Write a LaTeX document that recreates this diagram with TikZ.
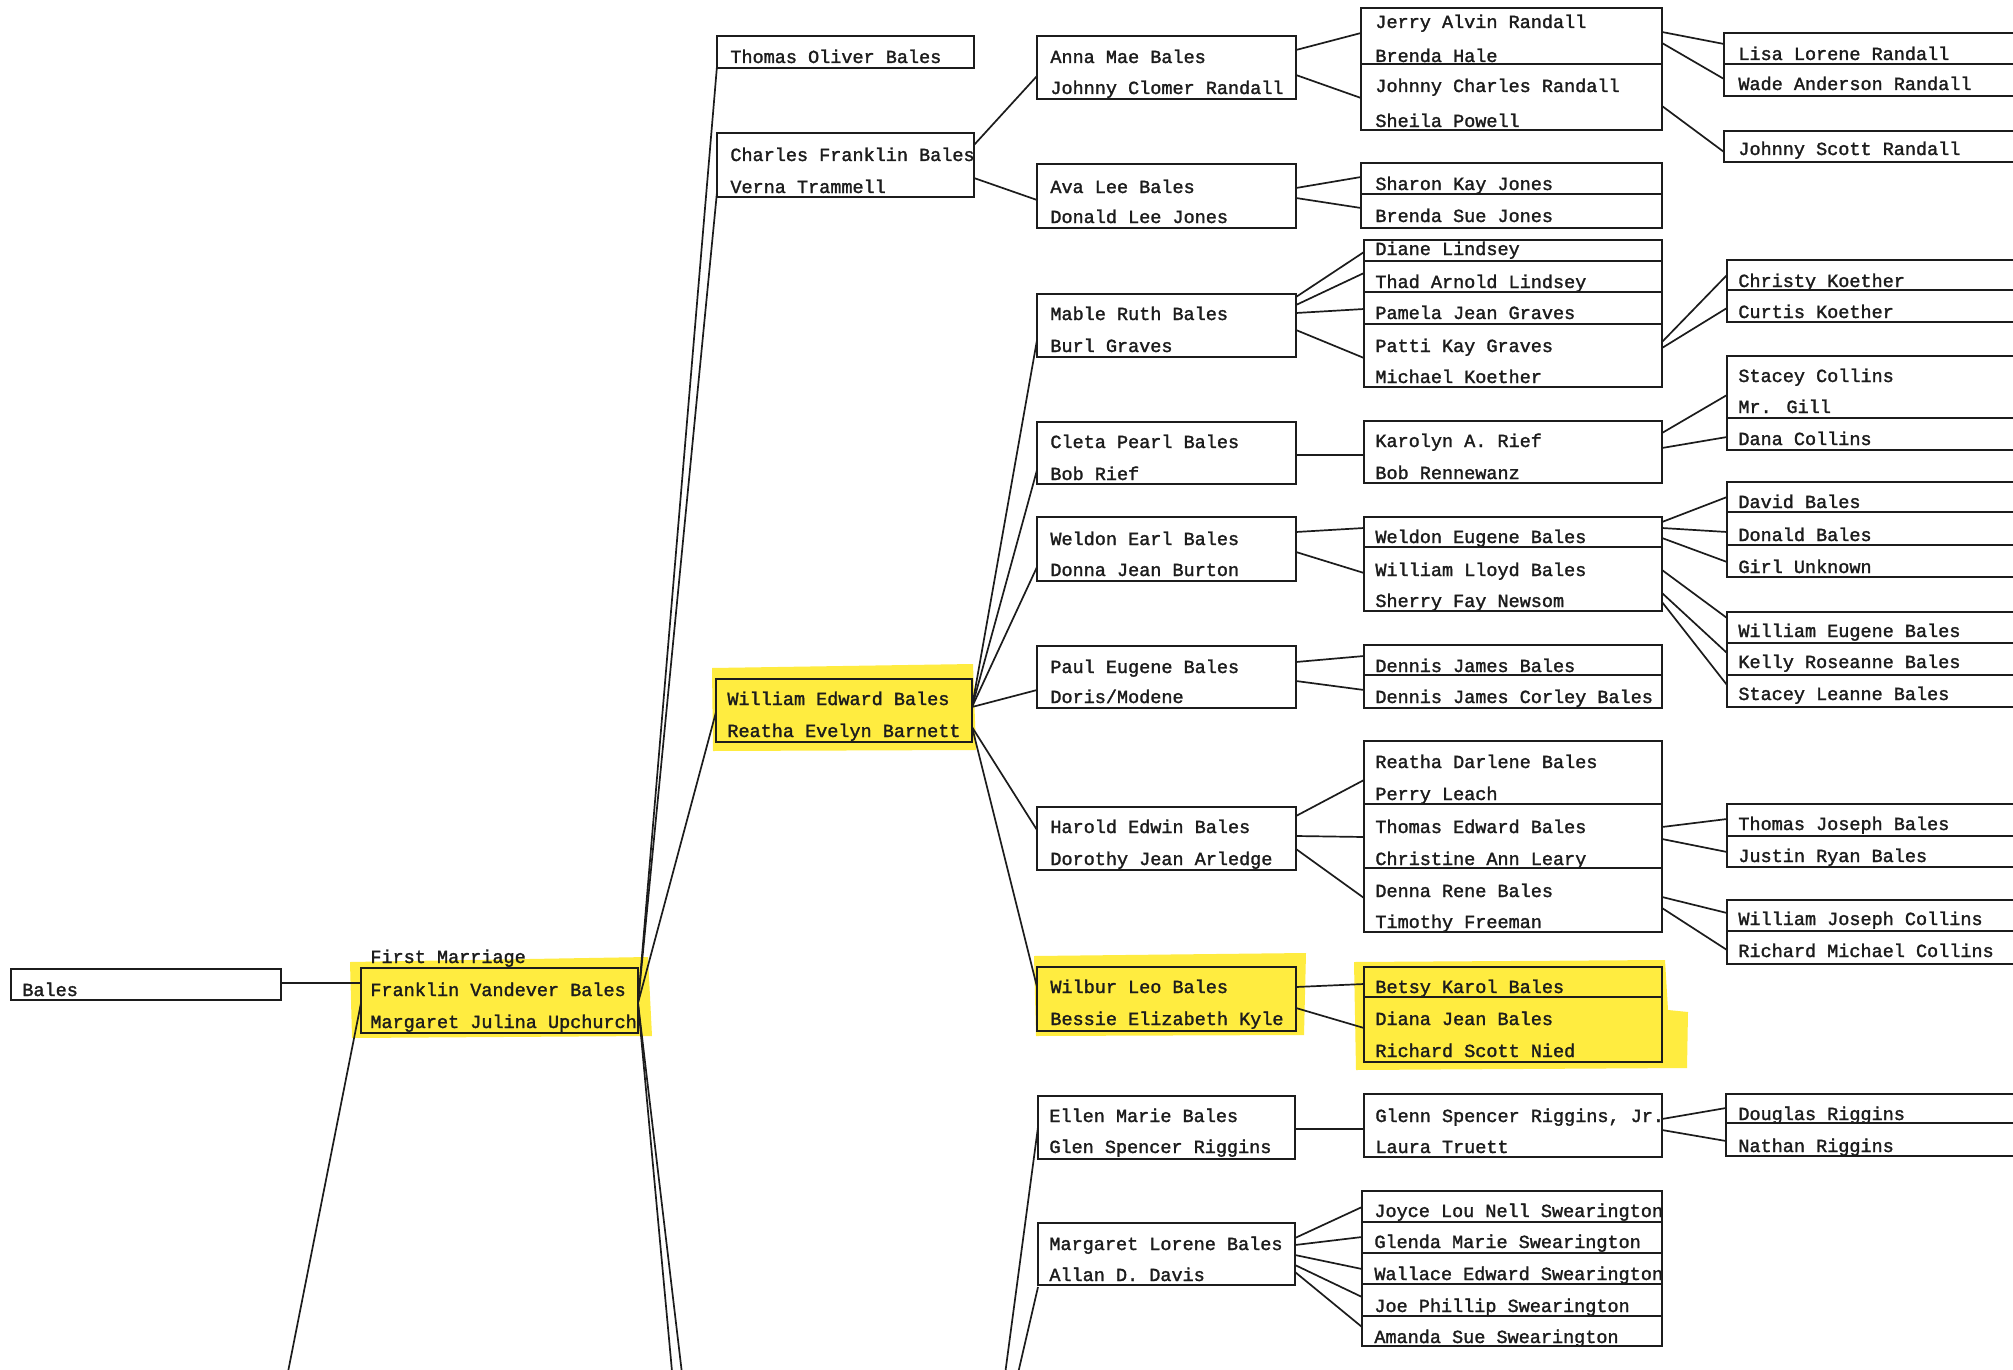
\documentclass[tikz,border=0pt]{standalone}
\usepackage{fontspec}
\newfontfamily\tw[FakeBold=1.6]{Liberation Mono}
\usetikzlibrary{fit}
\definecolor{hl}{RGB}{255,236,64}
\definecolor{ink}{RGB}{28,28,28}
\newcounter{tc}
\tikzset{
 bx/.style={draw=ink, line width=1.1pt, inner sep=0pt, outer sep=0pt, rectangle},
 cn/.style={draw=ink, line width=0.85pt},
 sepl/.style={draw=ink, line width=1.1pt},
 txt/.style={anchor=base west, inner sep=0pt, text=ink, font=\tw\fontsize{9.25}{11}\selectfont},
 hlt/.style={fill=hl, draw=none},
}
\newcommand\tx[3]{\stepcounter{tc}\node[txt] (t\arabic{tc}) at (#1,#2) {#3};}
\newcommand\bxn[5]{\node[bx, fit={(#2,#3) (#4,#5)}] (#1) {};}
\newcommand\sepr[2]{\draw[sepl] (#1.west |- 0,#2) -- (#1.east |- 0,#2);}
\newcommand\lk[4]{\draw[cn] (#1.east |- 0,#2) -- (#3.west |- 0,#4);}
\begin{document}
\begin{tikzpicture}[x=0.5pt,y=-0.5pt]
\useasboundingbox (0,0) rectangle (2013,1370);
\fill[white] (0,0) rectangle (2013,1370);
\clip (0,0) rectangle (2013,1370);
% highlights
\fill[hlt] (350,962) -- (648,957) -- (652,1036) -- (352,1038) -- cycle;
\fill[hlt] (712,668) -- (973,664) -- (976,750) -- (713,751) -- cycle;
\fill[hlt] (1034,956) -- (1306,953) -- (1304,1035) -- (1036,1036) -- cycle;
\fill[hlt] (1354,962) -- (1665,960) -- (1668,1010) -- (1688,1012) -- (1687,1068) -- (1356,1070) -- cycle;
% column 0
\bxn{bales}{11}{969}{281}{1000}
\tx{22}{996}{Bales}
\bxn{fvb}{361}{968}{638}{1033}
\tx{370}{963}{First Marriage}
\tx{370}{996}{Franklin Vandever Bales}
\tx{370}{1028}{Margaret Julina Upchurch}
\lk{bales}{983}{fvb}{983}
% column 1
\bxn{thomas}{717}{36}{974}{68}
\tx{730}{63}{Thomas Oliver Bales}
\bxn{charles}{717}{133}{974}{197}
\tx{730}{161}{Charles Franklin Bales}
\tx{730}{193}{Verna Trammell}
\bxn{web}{716}{679}{972}{742}
\tx{727}{705}{William Edward Bales}
\tx{727}{737}{Reatha Evelyn Barnett}
\lk{fvb}{1003}{thomas}{66}
\lk{fvb}{1003}{charles}{192}
\lk{fvb}{1003}{web}{712}
\coordinate (o1) at (673,1382);
\coordinate (o2) at (683,1382);
\coordinate (o3) at (286,1382);
\coordinate (o4) at (1004,1382);
\coordinate (o5) at (1016,1382);
\draw[cn] (fvb.east |- 0,1003) -- (o1);
\draw[cn] (fvb.east |- 0,1003) -- (o2);
\draw[cn] (fvb.west |- 0,1003) -- (o3);
% Charles's children
\bxn{anna}{1037}{36}{1296}{99}
\tx{1050}{63}{Anna Mae Bales}
\tx{1050}{94}{Johnny Clomer Randall}
\bxn{ava}{1037}{164}{1296}{228}
\tx{1050}{193}{Ava Lee Bales}
\tx{1050}{223}{Donald Lee Jones}
\lk{charles}{145}{anna}{76}
\lk{charles}{178}{ava}{200}
\bxn{jerry}{1361}{8}{1662}{130}
\sepr{jerry}{64}
\tx{1375}{28}{Jerry Alvin Randall}
\tx{1375}{62}{Brenda Hale}
\tx{1375}{92}{Johnny Charles Randall}
\tx{1375}{127}{Sheila Powell}
\lk{anna}{50}{jerry}{33}
\lk{anna}{75}{jerry}{98}
\bxn{sharon}{1361}{163}{1662}{228}
\sepr{sharon}{194}
\tx{1375}{190}{Sharon Kay Jones}
\tx{1375}{222}{Brenda Sue Jones}
\lk{ava}{188}{sharon}{177}
\lk{ava}{198}{sharon}{208}
\bxn{lisa}{1724}{33}{2030}{96}
\sepr{lisa}{64}
\tx{1738}{60}{Lisa Lorene Randall}
\tx{1738}{90}{Wade Anderson Randall}
\bxn{jsr}{1724}{131}{2030}{162}
\tx{1738}{155}{Johnny Scott Randall}
\lk{jerry}{32}{lisa}{44}
\lk{jerry}{43}{lisa}{79}
\lk{jerry}{106}{jsr}{152}
% Mable
\bxn{mable}{1037}{294}{1296}{357}
\tx{1050}{320}{Mable Ruth Bales}
\tx{1050}{352}{Burl Graves}
\bxn{dl}{1364}{240}{1662}{387}
\sepr{dl}{261}\sepr{dl}{292}\sepr{dl}{324}
\tx{1375}{255}{Diane Lindsey}
\tx{1375}{288}{Thad Arnold Lindsey}
\tx{1375}{319}{Pamela Jean Graves}
\tx{1375}{352}{Patti Kay Graves}
\tx{1375}{383}{Michael Koether}
\lk{mable}{297}{dl}{252}
\lk{mable}{305}{dl}{273}
\lk{mable}{313}{dl}{309}
\lk{mable}{330}{dl}{358}
\bxn{christy}{1727}{260}{2030}{322}
\sepr{christy}{290}
\tx{1738}{287}{Christy Koether}
\tx{1738}{318}{Curtis Koether}
\lk{dl}{342}{christy}{275}
\lk{dl}{348}{christy}{308}
% Cleta
\bxn{cleta}{1037}{422}{1296}{484}
\tx{1050}{448}{Cleta Pearl Bales}
\tx{1050}{480}{Bob Rief}
\bxn{karolyn}{1364}{421}{1662}{483}
\tx{1375}{447}{Karolyn A. Rief}
\tx{1375}{479}{Bob Rennewanz}
\lk{cleta}{455}{karolyn}{455}
\bxn{stacey}{1727}{356}{2030}{450}
\sepr{stacey}{418}
\tx{1738}{382}{Stacey Collins}
\tx{1738}{413}{Mr. Gill}
\tx{1738}{445}{Dana Collins}
\lk{karolyn}{433}{stacey}{395}
\lk{karolyn}{448}{stacey}{437}
% Weldon
\bxn{weldon}{1037}{517}{1296}{581}
\tx{1050}{545}{Weldon Earl Bales}
\tx{1050}{576}{Donna Jean Burton}
\bxn{wb}{1364}{517}{1662}{611}
\sepr{wb}{547}
\tx{1375}{543}{Weldon Eugene Bales}
\tx{1375}{576}{William Lloyd Bales}
\tx{1375}{607}{Sherry Fay Newsom}
\lk{weldon}{532}{wb}{528}
\lk{weldon}{552}{wb}{573}
\bxn{david}{1727}{482}{2030}{577}
\sepr{david}{512}\sepr{david}{545}
\tx{1738}{508}{David Bales}
\tx{1738}{541}{Donald Bales}
\tx{1738}{573}{Girl Unknown}
\lk{wb}{522}{david}{497}
\lk{wb}{528}{david}{532}
\lk{wb}{538}{david}{562}
\bxn{wmeb}{1727}{612}{2030}{707}
\sepr{wmeb}{643}\sepr{wmeb}{675}
\tx{1738}{637}{William Eugene Bales}
\tx{1738}{668}{Kelly Roseanne Bales}
\tx{1738}{700}{Stacey Leanne Bales}
\lk{wb}{570}{wmeb}{618}
\lk{wb}{593}{wmeb}{653}
\lk{wb}{602}{wmeb}{685}
% Paul
\bxn{paul}{1037}{646}{1296}{708}
\tx{1050}{673}{Paul Eugene Bales}
\tx{1050}{703}{Doris/Modene}
\bxn{dennis}{1364}{645}{1662}{708}
\sepr{dennis}{675}
\tx{1375}{672}{Dennis James Bales}
\tx{1375}{703}{Dennis James Corley Bales}
\lk{paul}{662}{dennis}{656}
\lk{paul}{681}{dennis}{690}
% Harold
\bxn{harold}{1037}{807}{1296}{870}
\tx{1050}{833}{Harold Edwin Bales}
\tx{1050}{865}{Dorothy Jean Arledge}
\bxn{hc}{1364}{741}{1662}{932}
\sepr{hc}{804}\sepr{hc}{868}
\tx{1375}{768}{Reatha Darlene Bales}
\tx{1375}{800}{Perry Leach}
\tx{1375}{833}{Thomas Edward Bales}
\tx{1375}{865}{Christine Ann Leary}
\tx{1375}{897}{Denna Rene Bales}
\tx{1375}{928}{Timothy Freeman}
\lk{harold}{816}{hc}{780}
\lk{harold}{836}{hc}{837}
\lk{harold}{849}{hc}{898}
\bxn{tj}{1727}{804}{2030}{867}
\sepr{tj}{836}
\tx{1738}{830}{Thomas Joseph Bales}
\tx{1738}{862}{Justin Ryan Bales}
\lk{hc}{827}{tj}{819}
\lk{hc}{839}{tj}{852}
\bxn{wjc}{1727}{900}{2030}{964}
\sepr{wjc}{931}
\tx{1738}{925}{William Joseph Collins}
\tx{1738}{957}{Richard Michael Collins}
\lk{hc}{897}{wjc}{913}
\lk{hc}{908}{wjc}{950}
% Wilbur
\bxn{wilbur}{1037}{967}{1296}{1031}
\tx{1050}{993}{Wilbur Leo Bales}
\tx{1050}{1025}{Bessie Elizabeth Kyle}
\bxn{betsy}{1364}{967}{1662}{1062}
\sepr{betsy}{997}
\tx{1375}{993}{Betsy Karol Bales}
\tx{1375}{1025}{Diana Jean Bales}
\tx{1375}{1057}{Richard Scott Nied}
\lk{wilbur}{987}{betsy}{984}
\lk{wilbur}{1008}{betsy}{1028}
% Ellen
\bxn{ellen}{1038}{1096}{1295}{1159}
\tx{1049}{1122}{Ellen Marie Bales}
\tx{1049}{1153}{Glen Spencer Riggins}
\bxn{glenn}{1364}{1094}{1662}{1157}
\tx{1375}{1122}{Glenn Spencer Riggins, Jr.}
\tx{1375}{1153}{Laura Truett}
\lk{ellen}{1129}{glenn}{1129}
\bxn{douglas}{1726}{1094}{2030}{1156}
\sepr{douglas}{1123}
\tx{1738}{1120}{Douglas Riggins}
\tx{1738}{1152}{Nathan Riggins}
\lk{glenn}{1119}{douglas}{1108}
\lk{glenn}{1130}{douglas}{1141}
% Margaret Lorene
\bxn{ml}{1038}{1223}{1295}{1285}
\tx{1049}{1250}{Margaret Lorene Bales}
\tx{1049}{1281}{Allan D. Davis}
\bxn{sw}{1362}{1191}{1662}{1346}
\sepr{sw}{1222}\sepr{sw}{1253}\sepr{sw}{1284}\sepr{sw}{1316}
\tx{1374}{1217}{Joyce Lou Nell Swearington}
\tx{1374}{1248}{Glenda Marie Swearington}
\tx{1374}{1280}{Wallace Edward Swearington}
\tx{1374}{1312}{Joe Phillip Swearington}
\tx{1374}{1343}{Amanda Sue Swearington}
\lk{ml}{1238}{sw}{1207}
\lk{ml}{1245}{sw}{1237}
\lk{ml}{1255}{sw}{1269}
\lk{ml}{1265}{sw}{1297}
\lk{ml}{1272}{sw}{1327}
\draw[cn] (ellen.west |- 0,1127) -- (o4);
\draw[cn] (ml.west |- 0,1287) -- (o5);
% William Edward Bales's children
\draw[cn] (web.east |- 0,707) -- (mable.west |- 0,340);
\draw[cn] (web.east |- 0,707) -- (cleta.west |- 0,470);
\draw[cn] (web.east |- 0,707) -- (weldon.west |- 0,567);
\draw[cn] (web.east |- 0,707) -- (paul.west |- 0,690);
\draw[cn] (web.east |- 0,727) -- (harold.west |- 0,830);
\draw[cn] (web.east |- 0,727) -- (wilbur.west |- 0,987);
\end{tikzpicture}
\end{document}
